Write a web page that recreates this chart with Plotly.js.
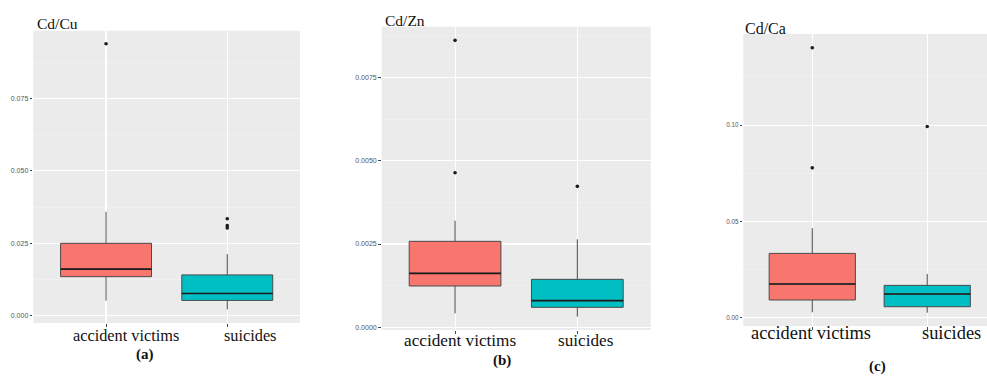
<!DOCTYPE html>
<html>
<head>
<meta charset="utf-8">
<script src="https://cdn.plot.ly/plotly-3.0.1.min.js"></script>
<style>
  html, body { margin: 0; padding: 0; background: #ffffff; }
  #chart { width: 987px; height: 376px; }
</style>
</head>
<body>
<div id="chart"></div>
<script>
// Group labels shared by all three panels
const groups = ['accident victims', 'suicides'];
const groupPos = [1, 2];
const groupColors = ['#F8766D', '#00BFC4'];

// Panel titles and tags
const ratioNames = ['Cd/Cu', 'Cd/Zn', 'Cd/Ca'];
const panelTags = ['(a)', '(b)', '(c)'];

// Cd/Cu box statistics [accident victims, suicides]
const cuLower  = [0.0052, 0.0022];
const cuQ1     = [0.0135, 0.0053];
const cuMedian = [0.0161, 0.0077];
const cuQ3     = [0.0250, 0.0141];
const cuUpper  = [0.0359, 0.0213];
const cuOutliersAccident = [0.0939];
const cuOutliersSuicide  = [0.0335, 0.0311, 0.0303];

// Cd/Zn box statistics
const znLower  = [0.00042, 0.00032];
const znQ1     = [0.00124, 0.00060];
const znMedian = [0.00162, 0.00080];
const znQ3     = [0.00258, 0.00144];
const znUpper  = [0.00320, 0.00264];
const znOutliersAccident = [0.00861, 0.00464];
const znOutliersSuicide  = [0.00423];

// Cd/Ca box statistics
const caLower  = [0.0028, 0.0026];
const caQ1     = [0.0092, 0.0057];
const caMedian = [0.0175, 0.0123];
const caQ3     = [0.0334, 0.0168];
const caUpper  = [0.0465, 0.0227];
const caOutliersAccident = [0.1402, 0.0778];
const caOutliersSuicide  = [0.0993];

// Y tick settings per panel
const yTickStep = [0.025, 0.0025, 0.05];
const yTickFormat = ['.3f', '.4f', '.2f'];

const panels = [
  {lower: cuLower, q1: cuQ1, med: cuMedian, q3: cuQ3, upper: cuUpper,
   out: [cuOutliersAccident, cuOutliersSuicide]},
  {lower: znLower, q1: znQ1, med: znMedian, q3: znQ3, upper: znUpper,
   out: [znOutliersAccident, znOutliersSuicide]},
  {lower: caLower, q1: caQ1, med: caMedian, q3: caQ3, upper: caUpper,
   out: [caOutliersAccident, caOutliersSuicide]}
];

// Page geometry (pixels) for each panel
const W = 987, H = 376;
const geom = [
  {x0: 33.3, x1: 300.0, y0: 30.7, y1: 323.0, yr: [-0.0025, 0.0984], xr: [0.4, 2.6], tickFont: 7,
   titleX: 36, titleY: 23.8, titleSize: 15.5,
   labX: [126, 249.7], labY: 335.8, labSize: 16.3, tagX: 144.7, tagY: 354.2},
  {x0: 381.7, x1: 650.7, y0: 26.7, y1: 330.0, yr: [-0.00008, 0.00902], xr: [0.4, 2.6], tickFont: 7,
   titleX: 384.3, titleY: 20, titleSize: 15.5,
   labX: [460, 585.5], labY: 340, labSize: 17.2, tagX: 502, tagY: 360.5},
  {x0: 743.3, x1: 987.0, y0: 34.0, y1: 326.0, yr: [-0.0043, 0.1473], xr: [0.4, 2.52], tickFont: 6.3,
   titleX: 744, titleY: 28.5, titleSize: 16,
   labX: [810.8, 951.3], labY: 333, labSize: 18.4, tagX: 877.5, tagY: 366.7}
];

const BOX_W = 0.75;
const serif = 'Liberation Serif, Times New Roman, serif';
const sans = 'Liberation Sans, Arial, sans-serif';

const traces = [];
const layout = {
  width: W, height: H,
  margin: {l: 0, r: 0, t: 0, b: 0},
  paper_bgcolor: '#ffffff',
  plot_bgcolor: '#EBEBEB',
  showlegend: false,
  annotations: []
};

panels.forEach((p, k) => {
  const g = geom[k];
  const xa = k === 0 ? 'x' : 'x' + (k + 1);
  const ya = k === 0 ? 'y' : 'y' + (k + 1);
  const xKey = k === 0 ? 'xaxis' : 'xaxis' + (k + 1);
  const yKey = k === 0 ? 'yaxis' : 'yaxis' + (k + 1);

  // Boxes, one trace per group so each keeps its own fill
  groups.forEach((name, i) => {
    traces.push({
      type: 'box', xaxis: xa, yaxis: ya,
      x: [groupPos[i]],
      q1: [p.q1[i]], median: [p.med[i]], q3: [p.q3[i]],
      lowerfence: [p.lower[i]], upperfence: [p.upper[i]],
      width: BOX_W, whiskerwidth: 0,
      fillcolor: groupColors[i],
      line: {color: '#4a4a4a', width: 1},
      boxpoints: false, hoverinfo: 'skip', name: name
    });
  });

  // Darker median bars drawn over each box
  const mx = [], my = [];
  groups.forEach((name, i) => {
    mx.push(groupPos[i] - BOX_W / 2, groupPos[i] + BOX_W / 2, null);
    my.push(p.med[i], p.med[i], null);
  });
  traces.push({
    type: 'scatter', mode: 'lines', xaxis: xa, yaxis: ya,
    x: mx, y: my, line: {color: '#1c1c1c', width: 1.6}, hoverinfo: 'skip'
  });

  // Outlying points
  const ox = [], oy = [];
  groups.forEach((name, i) => {
    p.out[i].forEach(v => { ox.push(groupPos[i]); oy.push(v); });
  });
  traces.push({
    type: 'scatter', mode: 'markers', xaxis: xa, yaxis: ya,
    x: ox, y: oy, marker: {color: '#1c1c1c', size: 3.6}, hoverinfo: 'skip'
  });

  layout[xKey] = {
    domain: [g.x0 / W, g.x1 / W],
    anchor: ya,
    range: g.xr,
    tickvals: groupPos,
    ticktext: ['', ''],
    ticks: 'outside', ticklen: 3, tickwidth: 1, tickcolor: '#444',
    showgrid: true, gridcolor: '#ffffff', gridwidth: 1.1,
    zeroline: false, showline: false, fixedrange: true
  };
  layout[yKey] = {
    domain: [1 - g.y1 / H, 1 - g.y0 / H],
    anchor: xa,
    range: g.yr,
    tick0: 0, dtick: yTickStep[k], tickformat: yTickFormat[k],
    ticks: 'outside', ticklen: 2.6, tickwidth: 1, tickcolor: '#444',
    tickfont: {family: sans, size: g.tickFont, color: '#555555'},
    showgrid: true, gridcolor: '#ffffff', gridwidth: 1.1,
    minor: {dtick: yTickStep[k] / 2, tick0: 0, showgrid: true, gridcolor: '#f3f3f3', gridwidth: 0.6, ticks: ''},
    zeroline: false, showline: false, fixedrange: true
  };

  // Panel title
  layout.annotations.push({
    xref: 'paper', yref: 'paper', x: g.titleX / W, y: 1 - g.titleY / H,
    xanchor: 'left', yanchor: 'middle', showarrow: false, borderpad: 0,
    text: ratioNames[k], font: {family: serif, size: g.titleSize, color: '#111'}
  });

  // Group labels under the panel
  groups.forEach((name, i) => {
    layout.annotations.push({
      xref: 'paper', yref: 'paper', x: g.labX[i] / W, y: 1 - g.labY / H,
      xanchor: 'center', yanchor: 'middle', showarrow: false, borderpad: 0,
      text: name, font: {family: serif, size: g.labSize, color: '#111'}
    });
  });

  // Panel tag
  layout.annotations.push({
    xref: 'paper', yref: 'paper', x: g.tagX / W, y: 1 - g.tagY / H,
    xanchor: 'center', yanchor: 'middle', showarrow: false, borderpad: 0,
    text: '<b>' + panelTags[k] + '</b>', font: {family: serif, size: 15, color: '#111'}
  });
});

Plotly.newPlot('chart', traces, layout, {staticPlot: true, displayModeBar: false});
</script>
</body>
</html>
